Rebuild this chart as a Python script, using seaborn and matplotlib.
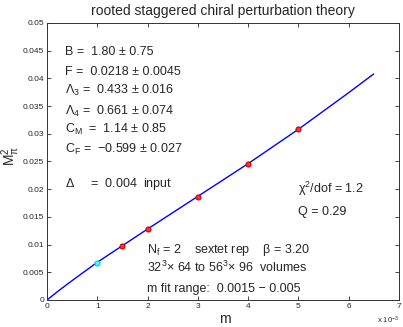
import numpy as np
import pandas as pd
import seaborn as sns
import matplotlib
matplotlib.use("Agg")
import matplotlib.pyplot as plt
from matplotlib.ticker import FuncFormatter

# fit curve, m in units of 1e-3
curve_m = [0.0, 0.25, 0.5, 1.0, 1.5, 2.0, 3.0, 4.0, 5.0, 6.0, 6.5]
curve_y = [0.0, 0.0018, 0.0035, 0.0068, 0.0098, 0.0128, 0.0187, 0.0246, 0.0308, 0.0374, 0.0408]

# data points
fit_m = [1.5, 2.0, 3.0, 4.0, 5.0]
fit_y = [0.0097, 0.0128, 0.0186, 0.0245, 0.0308]
fit_err = [0.0002, 0.0002, 0.0002, 0.0002, 0.0002]
out_m = [1.0]
out_y = [0.0067]
out_err = [0.0002]

x_ticks = [0, 1, 2, 3, 4, 5, 6, 7]
y_ticks = [0, 0.005, 0.01, 0.015, 0.02, 0.025, 0.03, 0.035, 0.04, 0.045, 0.05]

params = [
    (44.8, r"B =  1.80 ± 0.75"),
    (41.2, r"F =  0.0218 ± 0.0045"),
    (37.9, r"$\Lambda_3$ =  0.433 ± 0.016"),
    (34.1, r"$\Lambda_4$ =  0.661 ± 0.074"),
    (30.7, r"C$_M$  =  1.14 ± 0.85"),
    (27.1, r"C$_F$ =  −0.599 ± 0.027"),
    (20.9, r"$\Delta$     =  0.004  input"),
]


def main():
    sns.set_style("ticks")
    plt.rcParams["font.family"] = ["Liberation Sans", "DejaVu Sans"]
    plt.rcParams["mathtext.default"] = "regular"

    fig = plt.figure(figsize=(4.03, 3.27), dpi=100)
    ax = fig.add_axes([0.1166, 0.0826, 0.873, 0.8471])

    df_curve = pd.DataFrame({"m": curve_m, "y": curve_y})
    sns.lineplot(data=df_curve, x="m", y="y", color="blue", lw=1.0, ax=ax)

    ax.errorbar(fit_m, fit_y, yerr=fit_err, fmt="none", ecolor="#cc0000", lw=0.8)
    sns.scatterplot(x=fit_m, y=fit_y, color="#ff3030", edgecolor="#cc0000",
                    s=13, linewidth=0.8, ax=ax, zorder=3)
    ax.errorbar(out_m, out_y, yerr=out_err, fmt="none", ecolor="#00cccc", lw=0.8)
    sns.scatterplot(x=out_m, y=out_y, color="#40ffff", edgecolor="#00cccc",
                    s=13, linewidth=0.8, ax=ax, zorder=3)

    ax.set_xlim(0, 7)
    ax.set_ylim(0, 0.05)
    ax.set_xticks(x_ticks)
    ax.set_yticks(y_ticks)
    ax.yaxis.set_major_formatter(FuncFormatter(lambda v, p: "%g" % v))
    ax.tick_params(direction="in", top=True, right=True, labelsize=6,
                   length=3, width=0.6, pad=2)
    for s in ax.spines.values():
        s.set_linewidth(0.7)
        s.set_color("#333333")

    ax.set_xlabel("m", fontsize=10)
    ax.set_ylabel(r"M$_\pi^2$", fontsize=10)
    ax.xaxis.set_label_coords(0.505, -0.045)
    ax.yaxis.set_label_coords(-0.072, 0.52)
    ax.set_title("rooted staggered chiral perturbation theory", fontsize=10, pad=6)
    fig.text(0.962, 0.012, r"x 10$^{-3}$", fontsize=5.5, ha="center")

    for yv, txt in params:
        ax.text(0.36, yv / 1000, txt, fontsize=9, va="center")

    ax.text(4.99, 0.0200, r"$\chi^2$/dof = 1.2", fontsize=9, va="center")
    ax.text(4.99, 0.0158, "Q = 0.29", fontsize=9, va="center")
    ax.text(1.99, 0.0090, r"N$_f$ = 2    sextet rep    $\beta$ = 3.20",
            fontsize=9, va="center")
    ax.text(1.99, 0.0058, r"32$^3$× 64 to 56$^3$× 96  volumes",
            fontsize=9, va="center")
    ax.text(1.99, 0.0019, "m fit range:  0.0015 − 0.005", fontsize=9, va="center")

    fig.savefig("out.png", dpi=100)


if __name__ == "__main__":
    main()
